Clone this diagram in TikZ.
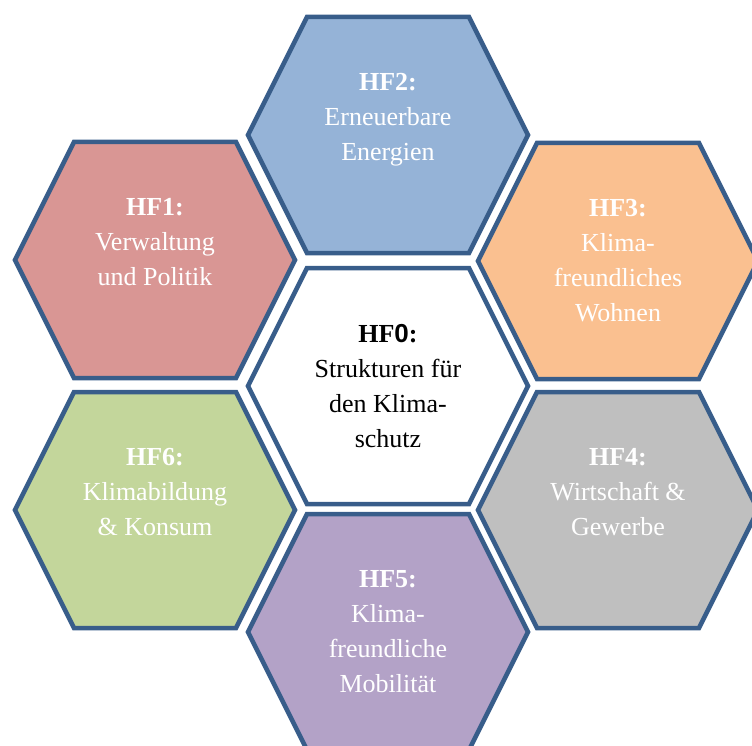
\documentclass[tikz,border=0pt]{standalone}
\usepackage{fontspec}
\setmainfont{Liberation Serif}
\newfontfamily\zerofont{Liberation Sans}
\definecolor{hexblue}{HTML}{385D8A}
\definecolor{fillblue}{HTML}{95B3D7}
\definecolor{fillred}{HTML}{D99694}
\definecolor{fillorange}{HTML}{FAC090}
\definecolor{fillgreen}{HTML}{C3D69B}
\definecolor{fillgray}{HTML}{BFBFBF}
\definecolor{fillpurple}{HTML}{B3A2C7}
\newcommand\hexcell[3]{%
  \draw[hexline, fill=#3] (#1-140,#2) -- (#1-81,#2-118) -- (#1+81,#2-118)
    -- (#1+140,#2) -- (#1+81,#2+118) -- (#1-81,#2+118) -- cycle;}
\begin{document}
\begin{tikzpicture}[x=1pt,y=-1pt,
  hexline/.style={draw=hexblue, line width=4.5pt, line join=miter},
  hexlabel/.style={anchor=north, align=center, inner sep=0pt,
    font=\fontsize{26}{35}\selectfont, text=white}]
\useasboundingbox (0,0) rectangle (752,746);
\clip (0,0) rectangle (752,746);
\hexcell{388}{135}{fillblue}
\hexcell{155}{260}{fillred}
\hexcell{618}{261}{fillorange}
\hexcell{388}{386}{white}
\hexcell{155}{510}{fillgreen}
\hexcell{618}{510}{fillgray}
\hexcell{388}{632}{fillpurple}
\node[hexlabel] (hf2) at (388,135-62) {\textbf{HF2:}\\Erneuerbare\\Energien};
\node[hexlabel] (hf1) at (155,260-62) {\textbf{HF1:}\\Verwaltung\\und Politik};
\node[hexlabel] (hf3) at (618,261-62) {\textbf{HF3:}\\Klima-\\freundliches\\Wohnen};
\node[hexlabel, text=black] (hf0) at (388,386-62) {\textbf{HF{\zerofont 0}:}\\Strukturen für\\den Klima-\\schutz};
\node[hexlabel] (hf6) at (155,510-62) {\textbf{HF6:}\\Klimabildung\\\& Konsum};
\node[hexlabel] (hf4) at (618,510-62) {\textbf{HF4:}\\Wirtschaft \&\\Gewerbe};
\node[hexlabel] (hf5) at (388,632-62) {\textbf{HF5:}\\Klima-\\freundliche\\Mobilität};
\end{tikzpicture}
\end{document}
